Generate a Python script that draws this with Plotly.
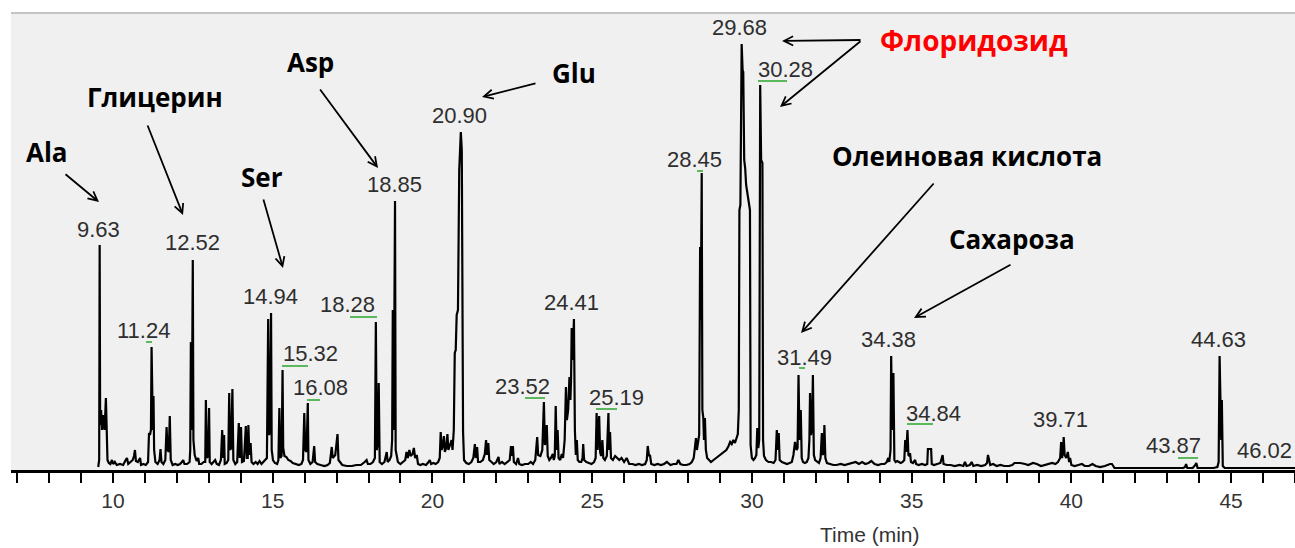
import plotly.graph_objects as go

# ---------------- DATA ----------------
rt_min = [
    9.54, 9.57, 9.585, 9.60, 9.63, 9.66, 9.70, 9.74, 9.78, 9.80,
    9.83, 9.87, 9.92, 9.97, 10.01, 10.06, 10.12, 10.22, 10.32, 10.40,
    10.44, 10.48, 10.56, 10.62, 10.66, 10.69, 10.72, 10.78, 10.85, 10.88,
    10.95, 11.03, 11.10, 11.13, 11.16, 11.19, 11.21, 11.23, 11.25, 11.27,
    11.29, 11.33, 11.40, 11.46, 11.49, 11.52, 11.58, 11.64, 11.68, 11.71,
    11.75, 11.78, 11.81, 11.87, 11.95, 12.03, 12.10, 12.16, 12.20, 12.24,
    12.32, 12.40, 12.42, 12.44, 12.47, 12.50, 12.52, 12.56, 12.62, 12.67,
    12.70, 12.77, 12.84, 12.89, 12.91, 12.94, 12.98, 13.01, 13.03, 13.09,
    13.15, 13.20, 13.25, 13.32, 13.38, 13.42, 13.45, 13.48, 13.50, 13.56,
    13.61, 13.64, 13.67, 13.70, 13.74, 13.77, 13.83, 13.89, 13.94, 13.97,
    14.01, 14.04, 14.10, 14.16, 14.19, 14.22, 14.24, 14.27, 14.31, 14.34,
    14.40, 14.47, 14.53, 14.59, 14.65, 14.71, 14.77, 14.82, 14.86, 14.89,
    14.92, 14.95, 14.97, 15.01, 15.07, 15.14, 15.18, 15.21, 15.24, 15.28,
    15.31, 15.33, 15.37, 15.43, 15.49, 15.56, 15.63, 15.72, 15.82, 15.90,
    15.95, 15.99, 16.02, 16.06, 16.10, 16.12, 16.18, 16.25, 16.30, 16.33,
    16.40, 16.50, 16.62, 16.72, 16.79, 16.85, 16.88, 16.96, 17.03, 17.06,
    17.11, 17.18, 17.32, 17.48, 17.62, 17.76, 17.88, 17.94, 17.98, 18.06,
    18.14, 18.20, 18.23, 18.26, 18.30, 18.32, 18.35, 18.42, 18.50, 18.54,
    18.57, 18.60, 18.66, 18.71, 18.74, 18.76, 18.79, 18.83, 18.85, 18.88,
    18.92, 19.00, 19.08, 19.15, 19.19, 19.23, 19.28, 19.32, 19.38, 19.42,
    19.46, 19.51, 19.55, 19.62, 19.70, 19.80, 19.88, 19.92, 19.96, 20.03,
    20.10, 20.18, 20.23, 20.26, 20.29, 20.33, 20.36, 20.39, 20.43, 20.47,
    20.50, 20.55, 20.60, 20.63, 20.67, 20.70, 20.73, 20.76, 20.80, 20.84,
    20.89, 20.92, 20.94, 20.96, 20.99, 21.06, 21.14, 21.22, 21.28, 21.33,
    21.36, 21.40, 21.43, 21.50, 21.58, 21.64, 21.68, 21.71, 21.75, 21.78,
    21.85, 21.92, 22.00, 22.07, 22.10, 22.18, 22.26, 22.34, 22.42, 22.46,
    22.49, 22.52, 22.55, 22.62, 22.68, 22.72, 22.80, 22.90, 23.00, 23.08,
    23.15, 23.22, 23.25, 23.28, 23.31, 23.38, 23.44, 23.49, 23.52, 23.55,
    23.58, 23.61, 23.66, 23.71, 23.77, 23.80, 23.83, 23.86, 23.89, 23.92,
    23.95, 24.00, 24.05, 24.09, 24.14, 24.18, 24.21, 24.25, 24.29, 24.32,
    24.34, 24.36, 24.39, 24.43, 24.46, 24.49, 24.52, 24.55, 24.60, 24.66,
    24.70, 24.72, 24.75, 24.82, 24.90, 24.98, 25.06, 25.11, 25.14, 25.17,
    25.22, 25.25, 25.28, 25.32, 25.35, 25.40, 25.46, 25.51, 25.53, 25.56,
    25.59, 25.65, 25.72, 25.78, 25.85, 25.92, 26.00, 26.08, 26.16, 26.26,
    26.36, 26.46, 26.56, 26.66, 26.71, 26.74, 26.78, 26.81, 26.85, 26.95,
    27.05, 27.15, 27.25, 27.34, 27.45, 27.55, 27.64, 27.70, 27.76, 27.85,
    27.95, 28.05, 28.12, 28.18, 28.22, 28.25, 28.28, 28.32, 28.35, 28.38,
    28.40, 28.43, 28.45, 28.48, 28.50, 28.53, 28.56, 28.60, 28.66, 28.72,
    28.80, 28.88, 28.96, 29.04, 29.12, 29.20, 29.27, 29.32, 29.37, 29.42,
    29.47, 29.52, 29.56, 29.59, 29.61, 29.64, 29.68, 29.71, 29.73, 29.76,
    29.79, 29.82, 29.86, 29.89, 29.92, 29.94, 29.96, 30.00, 30.05, 30.10,
    30.14, 30.17, 30.20, 30.23, 30.26, 30.29, 30.33, 30.35, 30.38, 30.44,
    30.52, 30.60, 30.68, 30.74, 30.78, 30.81, 30.84, 30.87, 30.94, 31.02,
    31.10, 31.18, 31.25, 31.30, 31.35, 31.40, 31.43, 31.46, 31.49, 31.53,
    31.56, 31.60, 31.66, 31.72, 31.77, 31.80, 31.82, 31.85, 31.88, 31.91,
    31.94, 31.98, 32.04, 32.10, 32.15, 32.19, 32.22, 32.25, 32.27, 32.30,
    32.35, 32.45, 32.55, 32.65, 32.78, 32.90, 33.02, 33.15, 33.25, 33.35,
    33.45, 33.55, 33.65, 33.74, 33.84, 33.95, 34.05, 34.15, 34.22, 34.27,
    34.30, 34.34, 34.36, 34.39, 34.43, 34.46, 34.50, 34.55, 34.60, 34.66,
    34.72, 34.77, 34.80, 34.83, 34.87, 34.90, 34.93, 34.95, 34.98, 35.04,
    35.11, 35.14, 35.22, 35.32, 35.42, 35.49, 35.51, 35.61, 35.63, 35.70,
    35.80, 35.90, 35.97, 36.00, 36.10, 36.22, 36.35, 36.50, 36.62, 36.67,
    36.72, 36.82, 36.88, 36.93, 37.05, 37.18, 37.30, 37.36, 37.39, 37.42,
    37.46, 37.55, 37.66, 37.78, 37.90, 38.05, 38.15, 38.22, 38.40, 38.55,
    38.65, 38.80, 38.92, 39.05, 39.18, 39.30, 39.40, 39.50, 39.58, 39.65,
    39.68, 39.71, 39.74, 39.76, 39.79, 39.84, 39.89, 39.93, 39.96, 40.00,
    40.10, 40.22, 40.33, 40.42, 40.55, 40.66, 40.76, 40.90, 41.05, 41.21,
    41.27, 41.35, 41.55, 41.80, 42.10, 42.40, 42.70, 43.00, 43.30, 43.50,
    43.56, 43.59, 43.63, 43.80, 43.88, 43.91, 43.95, 44.20, 44.45, 44.57,
    44.61, 44.64, 44.67, 44.69, 44.71, 44.74, 44.80, 45.20, 46.00, 47.00,
]

abundance = [
    3, 10, 225, 45, 60, 40, 55, 40, 72, 25,
    10, 7, 6, 10, 6, 8, 5, 6, 5, 10,
    12, 6, 8, 10, 14, 20, 9, 8, 12, 5,
    6, 5, 8, 37, 35, 40, 123, 60, 40, 74,
    20, 8, 6, 10, 21, 8, 6, 10, 43, 20,
    18, 54, 10, 5, 6, 5, 6, 8, 10, 6,
    6, 8, 20, 128, 40, 210, 30, 15, 9, 12,
    6, 6, 8, 8, 70, 12, 14, 62, 8, 6,
    8, 10, 6, 5, 10, 40, 12, 35, 6, 7,
    10, 77, 20, 22, 81, 10, 6, 8, 47, 12,
    43, 8, 9, 44, 12, 12, 45, 15, 27, 8,
    6, 8, 6, 9, 6, 8, 10, 12, 151, 35,
    40, 157, 20, 10, 7, 6, 10, 62, 12, 14,
    100, 22, 14, 13, 10, 9, 7, 6, 5, 6,
    10, 57, 20, 18, 67, 10, 6, 8, 24, 8,
    6, 5, 4, 5, 7, 23, 12, 15, 36, 10,
    8, 5, 4, 4, 5, 5, 8, 10, 6, 6,
    8, 12, 148, 20, 30, 87, 8, 6, 8, 14,
    18, 8, 10, 14, 30, 160, 40, 269, 20, 15,
    8, 6, 8, 10, 18, 12, 20, 14, 16, 22,
    12, 15, 6, 5, 6, 5, 8, 10, 6, 7,
    6, 8, 12, 38, 20, 25, 34, 18, 22, 36,
    20, 25, 30, 20, 40, 117, 120, 155, 160, 300,
    338, 320, 60, 38, 10, 7, 6, 8, 12, 26,
    12, 23, 8, 8, 10, 16, 30, 15, 27, 10,
    8, 6, 8, 13, 6, 8, 6, 8, 10, 24,
    14, 24, 8, 6, 12, 6, 5, 6, 6, 8,
    6, 10, 20, 33, 15, 14, 20, 68, 25, 30,
    45, 14, 10, 12, 16, 10, 14, 64, 20, 40,
    12, 10, 16, 12, 30, 83, 50, 60, 93, 70,
    90, 142, 110, 151, 40, 15, 30, 10, 8, 8,
    12, 26, 10, 8, 7, 6, 8, 12, 57, 20,
    54, 18, 14, 30, 12, 10, 14, 57, 20, 38,
    12, 10, 14, 12, 10, 12, 8, 12, 6, 6,
    5, 6, 5, 6, 10, 24, 14, 15, 6, 5,
    6, 5, 6, 8, 5, 6, 6, 10, 6, 5,
    5, 6, 8, 12, 25, 32, 20, 28, 35, 223,
    150, 297, 60, 52, 30, 52, 20, 12, 10, 8,
    10, 12, 14, 16, 18, 20, 24, 28, 26, 30,
    27, 32, 36, 60, 260, 265, 426, 400, 398, 310,
    302, 285, 275, 273, 262, 260, 25, 12, 10, 12,
    15, 42, 22, 30, 385, 310, 307, 30, 14, 10,
    8, 8, 7, 10, 40, 20, 37, 10, 8, 7,
    6, 7, 8, 15, 28, 20, 22, 95, 30, 60,
    12, 8, 7, 8, 12, 30, 77, 35, 40, 95,
    15, 10, 8, 7, 12, 37, 15, 20, 45, 12,
    7, 6, 5, 5, 6, 5, 6, 7, 8, 6,
    8, 6, 7, 9, 6, 5, 6, 6, 8, 12,
    8, 20, 114, 40, 97, 10, 8, 9, 8, 7,
    8, 10, 30, 18, 40, 15, 14, 17, 8, 7,
    10, 6, 5, 6, 5, 6, 21, 21, 6, 5,
    6, 7, 15, 6, 5, 5, 4, 5, 4, 8,
    4, 5, 8, 4, 5, 4, 5, 7, 15, 10,
    5, 6, 4, 5, 4, 4, 5, 7, 7, 6,
    5, 7, 6, 4, 5, 6, 7, 6, 8, 12,
    28, 12, 20, 33, 15, 12, 18, 8, 12, 5,
    4, 5, 6, 4, 4, 6, 4, 3, 4, 6,
    6, 2, 2, 2, 2, 2, 2, 2, 2, 2,
    3, 6, 2, 2, 5, 7, 2, 2, 2, 3,
    8, 114, 40, 30, 70, 4, 2, 2, 2, 2,
]
assert len(rt_min) == len(abundance)

peak_label_rt = [9.63, 11.24, 12.52, 14.94, 15.32, 16.08, 18.28, 18.85, 20.90,
                 23.52, 24.41, 25.19, 28.45, 29.68, 30.28, 31.49, 34.38, 34.84,
                 39.71, 43.87, 44.63, 46.02]

compound_names = ["Ala", "Глицерин", "Ser", "Asp", "Glu", "Флоридозид",
                  "Олеиновая кислота", "Сахароза"]

x_tick_values = [10, 15, 20, 25, 30, 35, 40, 45]
x_axis_title = "Time (min)"

# ---------------- LAYOUT / PLACEMENT ----------------
W, H = 1295, 548
M_L, M_R, M_T, M_B = 11, 0, 13, 78
X_RANGE = [6.81, 47.0]
Y_RANGE = [0, H - M_T - M_B]
PW = W - M_L - M_R
PH = H - M_T - M_B


def t_of_px(px):
    return X_RANGE[0] + (px - M_L) / PW * (X_RANGE[1] - X_RANGE[0])


def y_of_px(py):
    return Y_RANGE[0] + (M_T + PH - py) / PH * (Y_RANGE[1] - Y_RANGE[0])


# label centre positions (pixels)
peak_label_pos = [(98, 229), (143, 330), (192, 242), (270, 296), (310, 353),
                  (320, 387), (347, 304), (394, 184), (459, 115), (522, 386),
                  (571, 302), (616, 397), (694, 159), (739, 27), (785, 69),
                  (804, 357), (888, 339), (933, 413), (1060, 419), (1173, 445),
                  (1218, 339), (1264, 450)]

# small green integration marks under some labels (pixels: x0, x1, y)
green_marks = [(146, 152, 342), (282, 308, 366), (307, 320, 400),
               (350, 377, 317), (525, 545, 398), (596, 617, 409),
               (697, 703, 171), (758, 787, 81), (799, 805, 368),
               (907, 933, 424), (1178, 1198, 458)]

compound_pos = [(47, 152), (155, 97), (262, 177), (310, 62), (574, 73),
                (974, 40), (967, 156), (1012, 239)]
compound_sizes = [26, 26, 26, 26, 26, 28, 26, 26]
compound_colors = ["black"] * 5 + ["#ff0000"] + ["black"] * 2

# arrows: (tail_px, head_px)
arrows = [((64, 173), (99, 202)),
          ((147, 124), (183, 215)),
          ((263, 198), (283, 268)),
          ((319, 88), (378, 168)),
          ((537, 83), (482, 97)),
          ((862, 40), (782, 41)),
          ((862, 40), (780, 107)),
          ((935, 182), (801, 333)),
          ((1012, 264), (914, 318))]

fig = go.Figure()
fig.add_trace(go.Scatter(x=rt_min, y=abundance, mode="lines",
                         line=dict(color="black", width=2.2),
                         hoverinfo="skip", showlegend=False))

annotations = []
for rt, (cx, cy) in zip(peak_label_rt, peak_label_pos):
    annotations.append(dict(x=t_of_px(cx), y=y_of_px(cy), xref="x", yref="y",
                            text=f"{rt:.2f}", showarrow=False,
                            xanchor="center", yanchor="middle",
                            font=dict(family="Liberation Sans, Arial", size=22,
                                      color="#2e2e2e")))

for name, (cx, cy), col, sz in zip(compound_names, compound_pos,
                                   compound_colors, compound_sizes):
    annotations.append(dict(x=t_of_px(cx), y=y_of_px(cy), xref="x", yref="y",
                            text=f"<b>{name}</b>", showarrow=False,
                            xanchor="center", yanchor="middle",
                            font=dict(family="Open Sans", size=sz, color=col)))

for (tx, ty), (hx, hy) in arrows:
    annotations.append(dict(x=t_of_px(hx), y=y_of_px(hy), xref="x", yref="y",
                            ax=t_of_px(tx), ay=y_of_px(ty), axref="x", ayref="y",
                            text="", showarrow=True, arrowhead=5, arrowsize=1,
                            arrowwidth=1.8, arrowcolor="black", standoff=0))

annotations.append(dict(x=(870 - M_L) / PW, y=-(534 - (M_T + PH)) / PH,
                        xref="paper", yref="paper", text=x_axis_title,
                        showarrow=False, xanchor="center", yanchor="middle",
                        font=dict(family="Liberation Sans, Arial", size=21,
                                  color="#333333")))

shapes = [dict(type="line", xref="paper", yref="paper", x0=0, x1=1, y0=1, y1=1,
               line=dict(color="#c4c4c4", width=2))]
for x0, x1, yy in green_marks:
    shapes.append(dict(type="line", xref="x", yref="y",
                       x0=t_of_px(x0), x1=t_of_px(x1),
                       y0=y_of_px(yy), y1=y_of_px(yy),
                       line=dict(color="#5cb85c", width=2)))

fig.update_layout(
    width=W, height=H,
    margin=dict(l=M_L, r=M_R, t=M_T, b=M_B, pad=0),
    paper_bgcolor="white", plot_bgcolor="#f0f0f0",
    showlegend=False,
    annotations=annotations,
    shapes=shapes,
    xaxis=dict(range=X_RANGE, showgrid=False, zeroline=False,
               showline=True, linecolor="black", linewidth=3,
               ticks="outside", ticklen=10, tickwidth=2, tickcolor="black",
               tickvals=x_tick_values, ticktext=[str(v) for v in x_tick_values],
               tickfont=dict(family="Liberation Sans, Arial", size=21,
                             color="#333333"),
               minor=dict(dtick=1, tick0=0, ticks="outside", ticklen=10,
                          tickwidth=2, tickcolor="black", showgrid=False)),
    yaxis=dict(range=Y_RANGE, visible=False, showgrid=False, zeroline=False),
)

fig.write_html("out.html", config={"displayModeBar": False})
